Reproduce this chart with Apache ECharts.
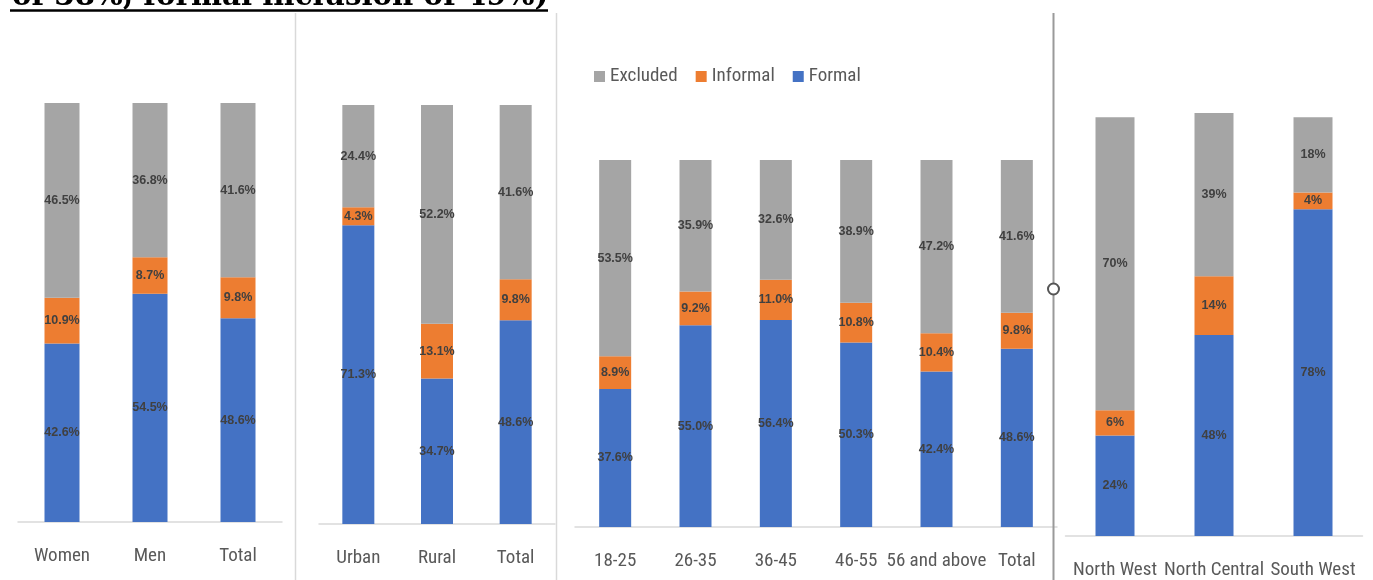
<!DOCTYPE html>
<html>
<head>
<meta charset="utf-8">
<script src="https://cdn.jsdelivr.net/npm/echarts@6/dist/echarts.min.js"></script>
<style>
  html, body { margin: 0; padding: 0; background: #ffffff; }
  #chart { width: 1373px; height: 580px; }
</style>
</head>
<body>
<div id="chart"></div>
<script>
// Financial inclusion shares (%) by group
const seriesNames = ['Excluded', 'Informal', 'Formal'];

const sexCats = ['Women', 'Men', 'Total'];
const sexFormal = [42.6, 54.5, 48.6];
const sexInformal = [10.9, 8.7, 9.8];
const sexExcluded = [46.5, 36.8, 41.6];

const locCats = ['Urban', 'Rural', 'Total'];
const locFormal = [71.3, 34.7, 48.6];
const locInformal = [4.3, 13.1, 9.8];
const locExcluded = [24.4, 52.2, 41.6];

const ageCats = ['18-25', '26-35', '36-45', '46-55', '56 and above', 'Total'];
const ageFormal = [37.6, 55.0, 56.4, 50.3, 42.4, 48.6];
const ageInformal = [8.9, 9.2, 11.0, 10.8, 10.4, 9.8];
const ageExcluded = [53.5, 35.9, 32.6, 38.9, 47.2, 41.6];

const zoneCats = ['North West', 'North Central', 'South West'];
const zoneFormal = [24, 48, 78];
const zoneInformal = [6, 14, 4];
const zoneExcluded = [70, 39, 18];

const titleText = 'of 38%, formal inclusion of 49%)';

const colors = { Excluded: '#A5A5A5', Informal: '#ED7D31', Formal: '#4472C4' };
const textFont = '"Roboto Condensed", Lato, sans-serif';
const valueFont = '"Liberation Sans", Arial, sans-serif';

const panels = [
  { cats: sexCats, formal: sexFormal, informal: sexInformal, excluded: sexExcluded, decimals: 1,
    grid: { left: 18, top: 103, width: 264, height: 419 }, yMax: 100, barWidth: 35 },
  { cats: locCats, formal: locFormal, informal: locInformal, excluded: locExcluded, decimals: 1,
    grid: { left: 319, top: 105, width: 236, height: 419 }, yMax: 100, barWidth: 32 },
  { cats: ageCats, formal: ageFormal, informal: ageInformal, excluded: ageExcluded, decimals: 1,
    grid: { left: 575, top: 160, width: 482, height: 367 }, yMax: 100, barWidth: 32 },
  { cats: zoneCats, formal: zoneFormal, informal: zoneInformal, excluded: zoneExcluded, decimals: 0,
    grid: { left: 1065.5, top: 113, width: 297, height: 423 }, yMax: 101, barWidth: 39 }
];

const grids = [], xAxes = [], yAxes = [], series = [];
panels.forEach((p, i) => {
  grids.push(Object.assign({ containLabel: false }, p.grid));
  xAxes.push({
    type: 'category', gridIndex: i, data: p.cats,
    axisLine: { lineStyle: { color: '#D9D9D9', width: 1.5 } },
    axisTick: { show: false },
    axisLabel: { interval: 0, hideOverlap: false, margin: 25, color: '#595959',
      fontFamily: textFont, fontSize: 19 }
  });
  yAxes.push({ type: 'value', gridIndex: i, min: 0, max: p.yMax, show: false, splitLine: { show: false } });
  const stackData = [['Formal', p.formal], ['Informal', p.informal], ['Excluded', p.excluded]];
  stackData.forEach(([name, vals]) => {
    series.push({
      name, type: 'bar', stack: 'panel' + i, xAxisIndex: i, yAxisIndex: i,
      barWidth: p.barWidth, data: vals,
      itemStyle: { color: colors[name] },
      label: {
        show: true, position: 'inside', color: '#404040',
        fontFamily: valueFont, fontWeight: 'bold', fontSize: 12.5,
        formatter: (d) => d.value.toFixed(p.decimals) + '%'
      }
    });
  });
});

// Fit the heading font to its line width
function fitFontSize(text, family, targetWidth) {
  const ctx = document.createElement('canvas').getContext('2d');
  ctx.font = 'bold 100px ' + family;
  return 100 * targetWidth / ctx.measureText(text).width;
}
const titleFamily = '"DejaVu Serif"';
const titleSize = fitFontSize(titleText, titleFamily, 536);

const chart = echarts.init(document.getElementById('chart'), null, { renderer: 'canvas' });
chart.setOption({
  animation: false,
  backgroundColor: '#ffffff',
  legend: {
    data: seriesNames, left: 589, top: 62,
    icon: 'rect', itemWidth: 11, itemHeight: 11, itemGap: 18,
    textStyle: { color: '#595959', fontFamily: textFont, fontSize: 19 }
  },
  grid: grids, xAxis: xAxes, yAxis: yAxes, series,
  graphic: [
    { type: 'text', z: 100, x: 12, y: -17,
      style: { text: titleText, font: 'bold ' + titleSize.toFixed(1) + 'px ' + titleFamily,
        fill: '#000000', verticalAlign: 'top' } },
    { type: 'line', z: 100, shape: { x1: 10, y1: 10.5, x2: 548, y2: 10.5 },
      style: { stroke: '#000000', lineWidth: 2.5 } },
    { type: 'line', z: 100, shape: { x1: 295.5, y1: 13, x2: 295.5, y2: 580 },
      style: { stroke: '#D9D9D9', lineWidth: 1.5 } },
    { type: 'line', z: 100, shape: { x1: 556.5, y1: 13, x2: 556.5, y2: 580 },
      style: { stroke: '#D9D9D9', lineWidth: 1.5 } },
    { type: 'line', z: 100, shape: { x1: 1053.5, y1: 13, x2: 1053.5, y2: 580 },
      style: { stroke: '#9A9A9A', lineWidth: 2 } },
    { type: 'circle', z: 101, shape: { cx: 1053.5, cy: 289, r: 5.5 },
      style: { fill: '#ffffff', stroke: '#555555', lineWidth: 2 } }
  ]
});
</script>
</body>
</html>
